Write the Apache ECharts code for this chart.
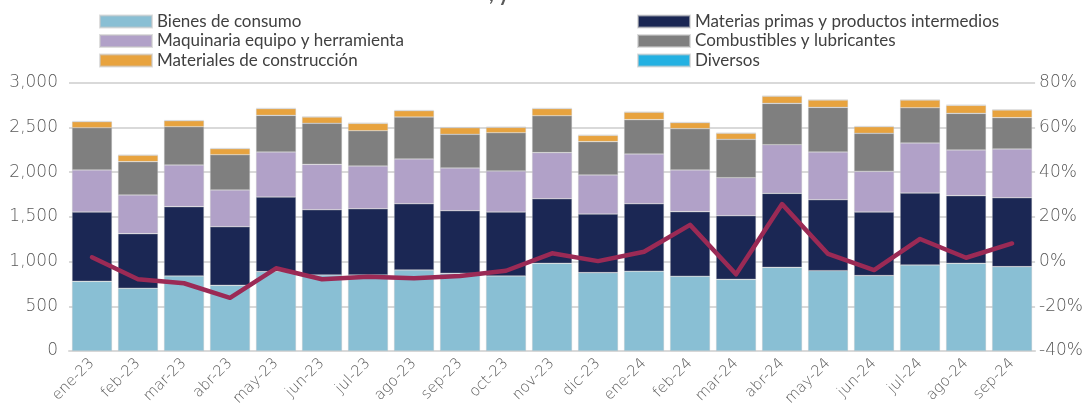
<!DOCTYPE html>
<html>
<head>
<meta charset="utf-8">
<script src="https://cdn.jsdelivr.net/npm/echarts@6/dist/echarts.min.js"></script>
<style>
  html, body { margin: 0; padding: 0; background: #fff; }
  #chart { width: 1086px; height: 410px; }
</style>
</head>
<body>
<div id="chart"></div>
<script>
// Monthly imports by type of good (stacked bars) and annual change (line, right axis)
const categories = ['ene-23','feb-23','mar-23','abr-23','may-23','jun-23','jul-23','ago-23','sep-23','oct-23','nov-23','dic-23',
                    'ene-24','feb-24','mar-24','abr-24','may-24','jun-24','jul-24','ago-24','sep-24'];

const bienesConsumo   = [779, 701, 839, 734, 887, 850, 850, 906, 868, 839, 980, 876, 891, 835, 801, 935, 898, 843, 961, 980, 943];
const materiasPrimas  = [775, 611, 775, 656, 835, 730, 741, 741, 701, 715, 723, 656, 756, 723, 712, 828, 794, 711, 805, 757, 771];
const maquinaria      = [470, 432, 466, 410, 503, 507, 477, 500, 477, 459, 515, 436, 556, 466, 425, 544, 533, 455, 559, 510, 545];
const combustibles    = [473, 373, 428, 395, 410, 459, 395, 469, 377, 428, 413, 373, 384, 462, 429, 462, 499, 425, 395, 410, 350];
const materiales      = [67, 71, 67, 67, 75, 70, 82, 71, 74, 60, 79, 70, 82, 67, 67, 79, 82, 74, 86, 90, 86];
const diversos        = [6, 6, 6, 6, 6, 6, 6, 6, 6, 6, 6, 6, 6, 6, 6, 6, 6, 6, 6, 6, 6];
const variacionAnual  = [1.9, -7.9, -9.7, -16.2, -3.0, -7.9, -6.8, -7.5, -6.5, -4.1, 3.7, 0.2, 4.4, 16.4, -5.7, 25.7, 3.4, -3.8, 10.1, 1.7, 8.1];

const leftTicks = { min: 0, max: 3000, interval: 500 };
const rightTicks = { min: -40, max: 80, interval: 20 };

const FONT = 'Lato, "Open Sans", sans-serif';
const AXIS_FONT = '"DejaVu Sans", sans-serif';
const TEXT = '#595959';

const chart = echarts.init(document.getElementById('chart'), null, { renderer: 'canvas' });

function barSeries(name, data, color) {
  return {
    name, type: 'bar', stack: 'total', data,
    barCategoryGap: '13%',
    itemStyle: { color, borderColor: 'rgba(200,200,200,0.6)', borderWidth: 0.6 },
    emphasis: { disabled: true }
  };
}

const legendBase = {
  orient: 'vertical',
  itemWidth: 52, itemHeight: 12, itemGap: 2.5,
  icon: 'rect',
  textStyle: { fontFamily: FONT, fontSize: 17, color: '#404040' },
  selectedMode: false
};

chart.setOption({
  animation: false,
  graphic: [{
    type: 'text', left: 489, top: -15,
    style: { text: ', y', font: 'bold 20px ' + FONT, fill: '#595959' }
  }],
  legend: [
    Object.assign({}, legendBase, { left: 94, top: 8, data: ['Bienes de consumo', 'Maquinaria equipo y herramienta', 'Materiales de construcción'] }),
    Object.assign({}, legendBase, { left: 632, top: 8, data: ['Materias primas y productos intermedios', 'Combustibles y lubricantes', 'Diversos'] })
  ],
  grid: { left: 69, right: 50, top: 82.7, bottom: 59 },
  xAxis: {
    type: 'category', data: categories,
    axisLine: { lineStyle: { color: '#D9D9D9', width: 2 } },
    axisTick: { show: false },
    axisLabel: { rotate: 45, fontFamily: AXIS_FONT, fontWeight: 200, fontSize: 15, color: TEXT, margin: 10, interval: 0 }
  },
  yAxis: [
    {
      type: 'value', min: leftTicks.min, max: leftTicks.max, interval: leftTicks.interval,
      axisLine: { show: false }, axisTick: { show: false },
      splitLine: { lineStyle: { color: '#D9D9D9', width: 2 } },
      axisLabel: {
        fontFamily: AXIS_FONT, fontWeight: 200, fontSize: 17, color: TEXT, margin: 11,
        formatter: v => v.toLocaleString('en-US')
      }
    },
    {
      type: 'value', min: rightTicks.min, max: rightTicks.max, interval: rightTicks.interval,
      axisLine: { show: false }, axisTick: { show: false }, splitLine: { show: false },
      axisLabel: { fontFamily: AXIS_FONT, fontWeight: 200, fontSize: 17, color: TEXT, margin: 4, formatter: '{value}%' }
    }
  ],
  series: [
    barSeries('Bienes de consumo', bienesConsumo, '#89BFD4'),
    barSeries('Materias primas y productos intermedios', materiasPrimas, '#1B2754'),
    barSeries('Maquinaria equipo y herramienta', maquinaria, '#B1A1C8'),
    barSeries('Combustibles y lubricantes', combustibles, '#7F7F7F'),
    barSeries('Materiales de construcción', materiales, '#E8A33E'),
    barSeries('Diversos', diversos, '#23B1E2'),
    {
      name: 'Variación anual', type: 'line', yAxisIndex: 1, data: variacionAnual,
      symbol: 'none', z: 10,
      lineStyle: { color: '#9B2A55', width: 4.5, join: 'round', cap: 'round' },
      emphasis: { disabled: true }
    }
  ]
});
</script>
</body>
</html>
